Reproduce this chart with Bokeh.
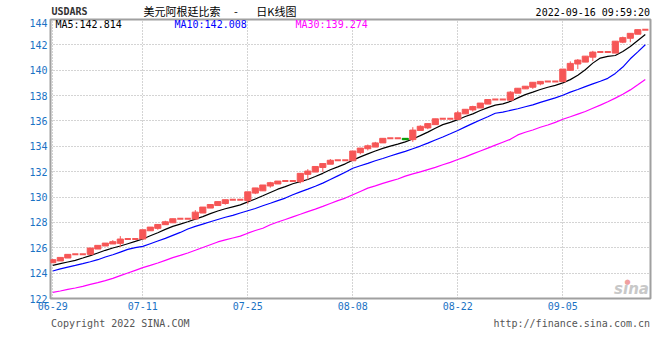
from bokeh.plotting import figure
from bokeh.models import ColumnDataSource, FixedTicker, Label, Range1d
from bokeh.layouts import column
from bokeh.core.properties import value
from bokeh.embed import file_html
from bokeh.resources import INLINE

# ---------------- data ----------------
# one entry per calendar day 2022-06-29 .. 2022-09-16 (weekends are flat)
opens = [124.82, 124.96, 125.19, 125.48, 125.48, 125.48, 125.90, 126.14, 126.30, 126.35,
         126.69, 126.69, 126.69, 127.34, 127.53, 127.82, 127.97, 128.29, 128.29, 128.26,
         128.74, 129.13, 129.33, 129.49, 129.79, 129.79, 129.72, 130.31, 130.49, 130.87,
         131.03, 131.26, 131.26, 131.21, 131.79, 131.97, 132.33, 132.59, 132.90, 132.90,
         132.86, 133.50, 133.81, 133.94, 134.27, 134.63, 134.63, 134.63, 134.53, 135.25,
         135.45, 135.71, 136.17, 136.17, 136.12, 136.56, 136.87, 137.02, 137.33, 137.69,
         137.69, 137.64, 138.19, 138.53, 138.66, 138.92, 139.12, 139.12, 139.10, 139.99,
         140.49, 140.64, 141.03, 141.43, 141.43, 141.35, 142.21, 142.52, 142.84, 143.20]
closes = [125.06, 125.24, 125.48, 125.48, 125.48, 125.98, 126.19, 126.37, 126.48, 126.69,
          126.69, 126.69, 127.42, 127.63, 127.84, 128.05, 128.29, 128.29, 128.29, 128.81,
          129.21, 129.41, 129.64, 129.79, 129.79, 129.79, 130.41, 130.72, 130.95, 131.13,
          131.26, 131.26, 131.26, 131.87, 132.05, 132.41, 132.64, 132.90, 132.90, 132.90,
          133.63, 133.86, 134.04, 134.27, 134.63, 134.63, 134.63, 134.52, 135.28, 135.58,
          135.79, 136.17, 136.17, 136.17, 136.64, 136.92, 137.13, 137.41, 137.69, 137.69,
          137.69, 138.27, 138.58, 138.74, 139.05, 139.12, 139.12, 139.12, 140.09, 140.54,
          140.80, 141.11, 141.43, 141.43, 141.43, 142.29, 142.57, 142.91, 143.20, 143.20]
highs = [125.12, 125.24, 125.48, 125.48, 125.48, 125.98, 126.19, 126.37, 126.60, 126.92,
         126.69, 126.69, 127.42, 127.63, 127.84, 128.13, 128.29, 128.29, 128.29, 128.97,
         129.21, 129.41, 129.64, 129.79, 129.79, 129.79, 130.41, 130.72, 130.95, 131.20,
         131.26, 131.26, 131.26, 131.87, 132.20, 132.41, 132.64, 133.00, 132.90, 132.90,
         133.63, 133.86, 134.14, 134.35, 134.63, 134.63, 134.63, 134.63, 135.51, 135.66,
         135.79, 136.17, 136.17, 136.17, 136.82, 136.92, 137.20, 137.41, 137.69, 137.69,
         137.69, 138.35, 138.58, 138.74, 139.05, 139.12, 139.12, 139.12, 140.09, 140.70,
         140.88, 141.11, 141.53, 141.43, 141.43, 142.29, 142.65, 142.91, 143.20, 143.20]
lows = [124.82, 124.96, 125.19, 125.48, 125.48, 125.42, 125.90, 126.14, 126.30, 126.06,
        126.69, 126.69, 126.69, 127.34, 127.42, 127.82, 127.97, 128.29, 128.29, 128.26,
        128.74, 129.13, 129.33, 129.40, 129.79, 129.79, 129.46, 130.23, 130.49, 130.74,
        131.03, 131.26, 131.26, 131.08, 131.38, 131.97, 131.97, 132.59, 132.90, 132.90,
        132.86, 133.37, 133.68, 133.94, 134.27, 134.63, 134.63, 134.52, 134.35, 135.25,
        135.35, 135.71, 136.17, 136.17, 136.12, 136.56, 136.74, 137.02, 137.33, 137.69,
        137.69, 137.64, 138.19, 138.53, 138.53, 138.81, 139.12, 139.12, 139.10, 139.99,
        140.09, 140.64, 140.72, 141.43, 141.43, 141.35, 142.13, 142.21, 142.84, 143.20]

ma5 = [124.61, 124.75, 124.88, 125.01, 125.19, 125.38, 125.59, 125.80, 125.98, 126.14,
       126.32, 126.50, 126.69, 126.95, 127.19, 127.45, 127.69, 127.87, 128.05, 128.26,
       128.46, 128.69, 128.90, 129.08, 129.23, 129.38, 129.62, 129.85, 130.10, 130.36,
       130.62, 130.82, 131.05, 131.21, 131.38, 131.62, 131.87, 132.15, 132.38, 132.62,
       132.91, 133.17, 133.40, 133.63, 133.84, 134.02, 134.17, 134.35, 134.58, 134.84,
       135.12, 135.43, 135.71, 135.89, 136.10, 136.35, 136.56, 136.82, 137.05, 137.25,
       137.35, 137.54, 137.82, 138.08, 138.27, 138.48, 138.66, 138.81, 139.00, 139.26,
       139.60, 140.04, 140.56, 140.96, 141.09, 141.16, 141.48, 141.87, 142.34, 142.81]
ma10 = [124.17, 124.33, 124.48, 124.61, 124.75, 124.90, 125.06, 125.27, 125.45, 125.66,
        125.87, 126.01, 126.11, 126.32, 126.53, 126.74, 126.98, 127.21, 127.48, 127.69,
        127.87, 128.05, 128.23, 128.41, 128.56, 128.74, 128.92, 129.10, 129.31, 129.51,
        129.72, 129.92, 130.18, 130.41, 130.62, 130.85, 131.10, 131.38, 131.67, 131.95,
        132.27, 132.47, 132.65, 132.86, 133.04, 133.24, 133.42, 133.60, 133.81, 134.02,
        134.25, 134.50, 134.74, 134.99, 135.25, 135.53, 135.81, 136.07, 136.33, 136.61,
        136.70, 136.83, 136.96, 137.12, 137.27, 137.46, 137.64, 137.82, 138.03, 138.27,
        138.48, 138.71, 138.92, 139.13, 139.36, 139.75, 140.25, 140.90, 141.45, 142.01]
ma30 = [122.49, 122.59, 122.72, 122.83, 122.96, 123.12, 123.25, 123.41, 123.59, 123.80,
        124.01, 124.22, 124.43, 124.61, 124.80, 125.01, 125.22, 125.40, 125.59, 125.80,
        126.02, 126.24, 126.46, 126.62, 126.77, 126.92, 127.15, 127.36, 127.54, 127.82,
        128.03, 128.23, 128.44, 128.64, 128.85, 129.05, 129.26, 129.49, 129.72, 129.92,
        130.18, 130.44, 130.70, 130.88, 131.08, 131.26, 131.42, 131.65, 131.83, 131.98,
        132.16, 132.34, 132.55, 132.73, 132.96, 133.17, 133.40, 133.63, 133.86, 134.09,
        134.32, 134.55, 134.90, 135.11, 135.29, 135.50, 135.68, 135.89, 136.13, 136.33,
        136.54, 136.75, 137.00, 137.25, 137.52, 137.80, 138.10, 138.45, 138.85, 139.27]

tick_days = [0, 12, 26, 40, 54, 68]
tick_labels = ["06-29", "07-11", "07-25", "08-08", "08-22", "09-05"]
y_ticks = [122, 124, 126, 128, 130, 132, 134, 136, 138, 140, 142, 144]

symbol = "USDARS"
title_text = "美元阿根廷比索\u3000\u00a0-\u3000\u00a0\u00a0\u00a0日K线图"
stamp = "2022-09-16 09:59:20"
legend_items = [("MA5:142.814", "#000000"), ("MA10:142.008", "#0000ff"), ("MA30:139.274", "#ff00ff")]
footer_left = "Copyright 2022 SINA.COM"
footer_right = "http://finance.sina.com.cn"

# ---------------- layout constants (canvas pixels) ----------------
W = 652
HEAD_H = 18          # header strip: canvas y 0..18
FL, FR, FT, FB = 50, 650, 19, 298   # main frame edges
MAIN_BOTTOM = 316
FOOT_H = 28          # footer strip: canvas y 316..344

# ---------------- derived ----------------
RED = "#f65656"
GREEN = "#009a00"
MONO = "DejaVu Sans Mono"
days = list(range(len(closes)))
BW = 0.82

up = [i for i in days if closes[i] > opens[i]]
dn = [i for i in days if closes[i] < opens[i]]
fl = [i for i in days if closes[i] == opens[i]]


def body_src(idx):
    return ColumnDataSource(dict(
        x=idx,
        top=[max(opens[i], closes[i]) for i in idx],
        bottom=[min(opens[i], closes[i]) for i in idx],
        hi=[highs[i] for i in idx],
        lo=[lows[i] for i in idx],
    ))


def strip(height):
    # the column aligns this strip's frame with the main frame (x 50..650)
    f = figure(width=W, height=height, output_backend="svg", toolbar_location=None,
               title=None,
               x_range=Range1d(FL, FR), y_range=Range1d(height, 0),
               x_axis_type=None, y_axis_type=None,
               min_border_left=FL, min_border_right=W - FR, min_border_top=0,
               min_border_bottom=0)
    f.grid.visible = False
    f.outline_line_color = None
    f.background_fill_color = "white"
    f.border_fill_color = "white"
    return f


def put(f, x, y, text, color, size="10px", font=MONO, align="left", style="normal"):
    f.text(x=[x], y=[y], text=[text], text_color=color, text_font_size=size,
           text_font=value(font), text_align=align, text_baseline="middle",
           text_font_style=style)


# header strip
head = strip(HEAD_H)
put(head, 51, 11.3, symbol, "#333333", style="bold")
put(head, 219.5, 10.8, title_text, "#000000", size="11px", font="Noto Sans CJK SC",
    align="center")
put(head, 649.5, 12.0, stamp, "#000000", align="right")

# main chart
MH = MAIN_BOTTOM - HEAD_H
p = figure(width=W, height=MH, output_backend="svg", toolbar_location=None, title=None,
           x_range=Range1d(-0.307, 79.693), y_range=Range1d(122.0, 144.0),
           min_border_left=FL, min_border_right=W - FR, min_border_top=FT - HEAD_H,
           min_border_bottom=MAIN_BOTTOM - FB)
p.background_fill_color = "white"
p.border_fill_color = "white"
p.outline_line_color = "#a0a0a0"
p.outline_line_width = 2

p.yaxis.ticker = FixedTicker(ticks=y_ticks)
p.xaxis.ticker = FixedTicker(ticks=tick_days)
p.xaxis.major_label_overrides = {d: l for d, l in zip(tick_days, tick_labels)}
for ax in (p.xaxis, p.yaxis):
    ax.axis_line_color = None
    ax.major_tick_line_color = None
    ax.minor_tick_line_color = None
    ax.major_tick_out = 0
    ax.major_label_text_color = "#1a72c4"
    ax.major_label_text_font = MONO
    ax.major_label_text_font_size = "10px"
p.xaxis.major_label_standoff = 3
p.yaxis.major_label_standoff = 3
p.ygrid.ticker = FixedTicker(ticks=y_ticks)
p.xgrid.ticker = FixedTicker(ticks=tick_days)
for g in (p.xgrid, p.ygrid):
    g.grid_line_color = "#a8a8a8"
    g.grid_line_dash = "1 2"
    g.grid_line_width = 1

p.line(days, ma30, line_color="#ff00ff", line_width=1.2)
p.line(days, ma10, line_color="#0000ff", line_width=1.2)
p.line(days, ma5, line_color="#000000", line_width=1.2)

for idx, col in ((up, RED), (dn, GREEN)):
    s = body_src(idx)
    p.segment(x0="x", x1="x", y0="lo", y1="hi", source=s, line_color=col, line_width=1)
    p.vbar(x="x", width=BW, top="top", bottom="bottom", source=s,
           fill_color=col, line_color=col, line_width=1)
fs = ColumnDataSource(dict(x0=[i - BW / 2 for i in fl], x1=[i + BW / 2 for i in fl],
                           y=[closes[i] for i in fl]))
p.segment(x0="x0", x1="x1", y0="y", y1="y", source=fs, line_color=RED, line_width=2)


def lab(x, y, text, color, size="10px", font=MONO, align="left", style="normal"):
    # "screen" units are relative to the frame (x from left, y from bottom)
    p.add_layout(Label(x=x - FL, y=FB - y, x_units="screen", y_units="screen", text=text,
                       text_color=color, text_font_size=size, text_font=font,
                       text_align=align, text_baseline="middle", text_font_style=style))


for (t, c), xx in zip(legend_items, [55, 174, 295]):
    lab(xx, 24, t, c)
lab(631, 288, "sina", "#c8c8c8", size="15px", font="DejaVu Sans", align="center",
    style="bold italic")
lab(627, 281, "\u25cf", "#f0a0a0", size="7px", font="DejaVu Sans", align="center")

# footer strip
foot = strip(FOOT_H)
put(foot, 50.5, 323.3 - MAIN_BOTTOM, footer_left, "#555555")
put(foot, 649.5, 323.3 - MAIN_BOTTOM, footer_right, "#555555", align="right")

layout = column(head, p, foot, spacing=0)
open("out.html", "w").write(file_html(layout, INLINE))
